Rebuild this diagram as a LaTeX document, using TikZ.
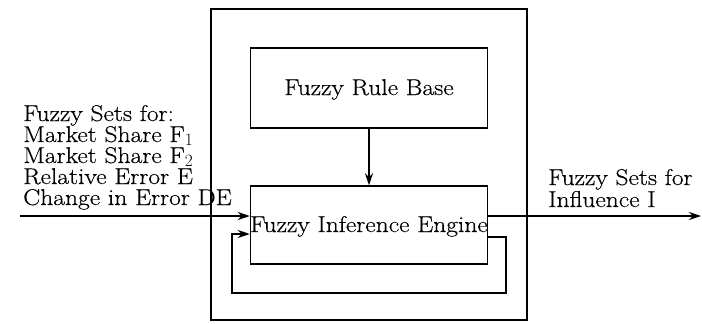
\documentclass[tikz,border=0pt]{standalone}
\usepackage{fontspec}
\setmainfont{Latin Modern Roman}[FakeStretch=1.12,FakeBold=0.4]
\usetikzlibrary{arrows.meta}
\begin{document}
\begin{tikzpicture}[x=1pt,y=-1pt,
  box/.style={draw,line width=1.5pt,inner sep=0pt},
  lbl/.style={anchor=base west,inner sep=0pt,font=\fontsize{22.8}{21}\selectfont},
  conn/.style={line width=1.4pt,-{Stealth[length=12pt,width=8pt]}}]
\useasboundingbox (0,0) rectangle (702,324);
\node[box,minimum width=316pt,minimum height=311pt] (outer) at (369,164.5) {};
\node[box,minimum width=237pt,minimum height=80pt] (rb) at (369,88) {};
\node[lbl,anchor=base] (rbt) at (369,95) {Fuzzy Rule Base};
\node[box,minimum width=237pt,minimum height=78pt] (eng) at (369,225) {};
\node[lbl,anchor=base] (engt) at (369,232) {Fuzzy Inference Engine};
\draw[conn] (rb.south) -- (eng.north);
% input
\coordinate (in) at (20,216);
\draw[conn] (in) -- (in -| eng.west);
% output
\coordinate (out) at (701,216);
\draw[conn] (out -| eng.east) -- (out);
% feedback
\coordinate (f1) at (506,237);
\coordinate (f2) at (506,293);
\coordinate (f3) at (232,293);
\coordinate (f4) at (232,234);
\draw[conn] (f1 -| eng.east) -- (f1) -- (f2) -- (f3) -- (f4) -- (f4 -| eng.west);
% left labels
\node[lbl] (l1) at (23,121) {Fuzzy Sets for:};
\node[lbl] (l2) at (23,142) {Market Share F$_1$};
\node[lbl] (l3) at (23,163) {Market Share F$_2$};
\node[lbl] (l4) at (23,184) {Relative Error E};
\node[lbl] (l5) at (23,205) {Change in Error DE};
% right labels
\node[lbl] (r1) at (548,185) {Fuzzy Sets for};
\node[lbl] (r2) at (548,207) {Influence I};
\end{tikzpicture}
\end{document}
